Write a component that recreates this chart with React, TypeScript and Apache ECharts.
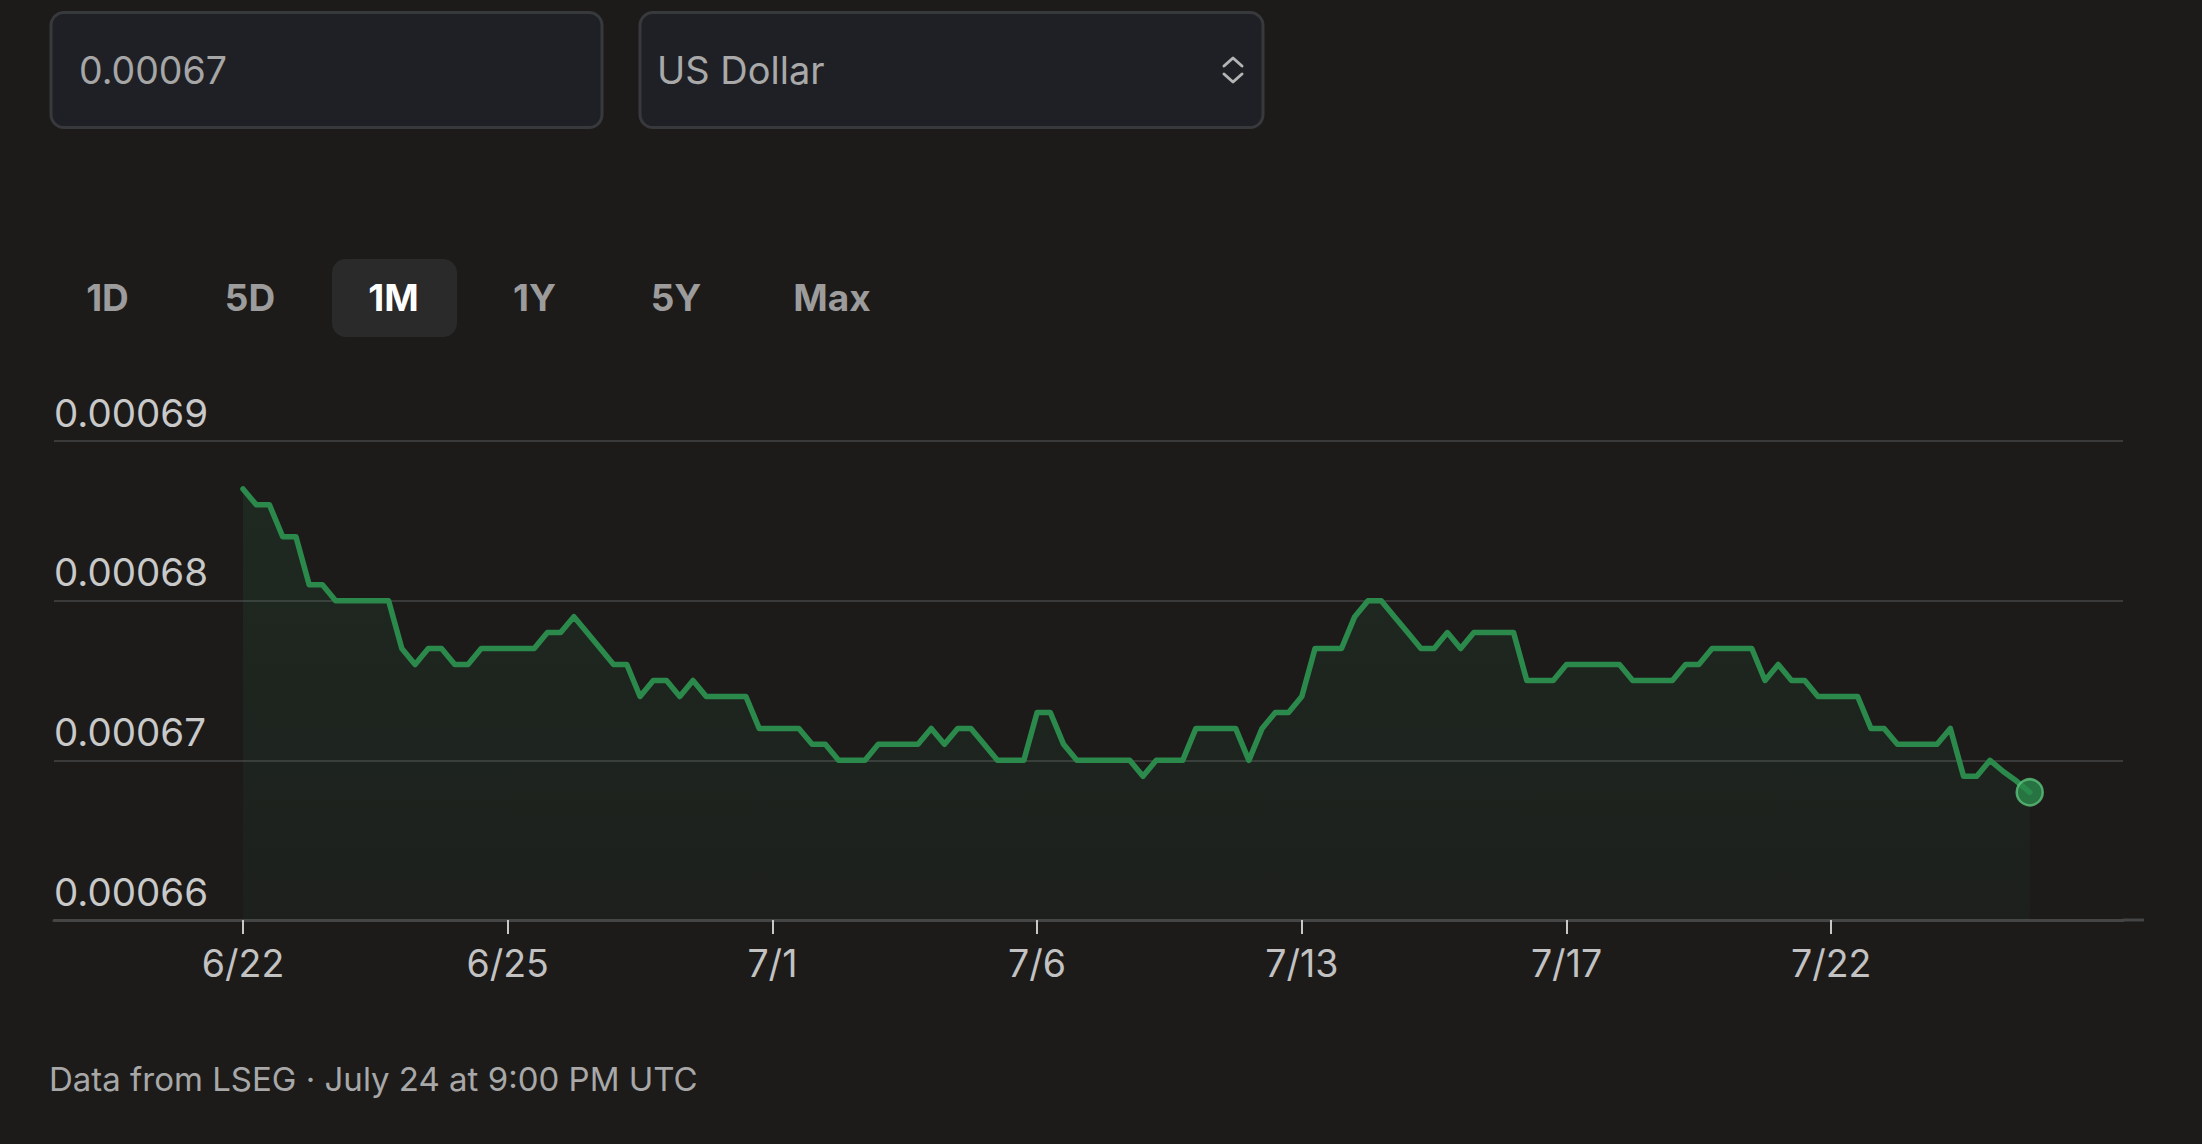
import React, { useEffect, useRef } from "react";
import * as echarts from "echarts";

// ---------- data ----------
const inputAmount = "0.00067";
const currencyName = "US Dollar";
const rangeOptions = ["1D", "5D", "1M", "1Y", "5Y", "Max"];
const activeRange = "1M";
const footnote = "Data from LSEG · July 24 at 9:00 PM UTC";

const dateTickLabels = ["6/22", "6/25", "7/1", "7/6", "7/13", "7/17", "7/22"];
const pointsPerTick = 20;

const yMin = 0.00066;
const yMax = 0.00069;
const yStep = 0.00001;

const rates = [
  0.000687, 0.000686, 0.000686, 0.000684, 0.000684, 0.000681, 0.000681, 0.00068, 0.00068, 0.00068,
  0.00068, 0.00068, 0.000677, 0.000676, 0.000677, 0.000677, 0.000676, 0.000676, 0.000677, 0.000677,
  0.000677, 0.000677, 0.000677, 0.000678, 0.000678, 0.000679, 0.000678, 0.000677, 0.000676, 0.000676,
  0.000674, 0.000675, 0.000675, 0.000674, 0.000675, 0.000674, 0.000674, 0.000674, 0.000674, 0.000672,
  0.000672, 0.000672, 0.000672, 0.000671, 0.000671, 0.00067, 0.00067, 0.00067, 0.000671, 0.000671,
  0.000671, 0.000671, 0.000672, 0.000671, 0.000672, 0.000672, 0.000671, 0.00067, 0.00067, 0.00067,
  0.000673, 0.000673, 0.000671, 0.00067, 0.00067, 0.00067, 0.00067, 0.00067, 0.000669, 0.00067,
  0.00067, 0.00067, 0.000672, 0.000672, 0.000672, 0.000672, 0.00067, 0.000672, 0.000673, 0.000673,
  0.000674, 0.000677, 0.000677, 0.000677, 0.000679, 0.00068, 0.00068, 0.000679, 0.000678, 0.000677,
  0.000677, 0.000678, 0.000677, 0.000678, 0.000678, 0.000678, 0.000678, 0.000675, 0.000675, 0.000675,
  0.000676, 0.000676, 0.000676, 0.000676, 0.000676, 0.000675, 0.000675, 0.000675, 0.000675, 0.000676,
  0.000676, 0.000677, 0.000677, 0.000677, 0.000677, 0.000675, 0.000676, 0.000675, 0.000675, 0.000674,
  0.000674, 0.000674, 0.000674, 0.000672, 0.000672, 0.000671, 0.000671, 0.000671, 0.000671, 0.000672,
  0.000669, 0.000669, 0.00067, 0.0006693, 0.0006687, 0.000668,
];

// ---------- layout / style ----------
const W = 2202;
const H = 1144;
const BG = "#1c1b1a";
const FONT = "Inter, 'Noto Sans', sans-serif";
const GREEN = "#2b8a4b";
const GRID_LEFT = 54;
const GRID_RIGHT = 2123;
const GRID_TOP = 441;
const GRID_BOTTOM = 920;
const FIRST_X = 243;
const STEP_X = 13.235;
const buttonCenters = [107.5, 250, 393.5, 534.5, 676, 832];

function buildOption() {
  const seriesData = rates.map((v, i) => [i, v]);
  const last = seriesData[seriesData.length - 1];
  const tickValues = dateTickLabels.map((_, k) => k * pointsPerTick);
  const xMin = (GRID_LEFT - FIRST_X) / STEP_X;
  const xMax = (GRID_RIGHT - FIRST_X) / STEP_X;

  const graphic: any[] = [
    // amount input
    {
      type: "rect",
      shape: { x: 51, y: 12.5, width: 551, height: 115, r: 13 },
      style: { fill: "#1f2025", stroke: "#38393d", lineWidth: 3 },
    },
    {
      type: "text",
      x: 79,
      y: 70,
      style: { text: inputAmount, fill: "#a6a6a6", fontSize: 37.5, fontFamily: FONT, align: "left", verticalAlign: "middle" },
    },
    // currency select
    {
      type: "rect",
      shape: { x: 640, y: 12.5, width: 623, height: 115, r: 13 },
      style: { fill: "#1f2025", stroke: "#38393d", lineWidth: 3 },
    },
    {
      type: "text",
      x: 657,
      y: 70,
      style: { text: currencyName, fill: "#a9a9a9", fontSize: 38, fontFamily: FONT, align: "left", verticalAlign: "middle" },
    },
    {
      type: "polyline",
      shape: { points: [[1224, 66], [1233, 58], [1242, 66]] },
      style: { stroke: "#b4b4b4", lineWidth: 3, fill: null, lineCap: "round", lineJoin: "round" },
    },
    {
      type: "polyline",
      shape: { points: [[1224, 74], [1233, 82], [1242, 74]] },
      style: { stroke: "#b4b4b4", lineWidth: 3, fill: null, lineCap: "round", lineJoin: "round" },
    },
    // active range background
    {
      type: "rect",
      shape: { x: 332, y: 259, width: 125, height: 78, r: 14 },
      style: { fill: "#2a2a2a" },
    },
    // footnote
    {
      type: "text",
      x: 49,
      y: 1079,
      style: { text: footnote, fill: "#a8a8a8", fontSize: 33, fontFamily: FONT, align: "left", verticalAlign: "middle" },
    },
    // axis line extension
    {
      type: "line",
      shape: { x1: GRID_RIGHT, y1: GRID_BOTTOM, x2: 2144, y2: GRID_BOTTOM },
      style: { stroke: "#454545", lineWidth: 3 },
    },
  ];

  rangeOptions.forEach((label, i) => {
    graphic.push({
      type: "text",
      x: buttonCenters[i],
      y: 297,
      style: {
        text: label,
        fill: label === activeRange ? "#ffffff" : "#9c9c9c",
        fontSize: 37,
        fontWeight: "bold",
        fontFamily: FONT,
        align: "center",
        verticalAlign: "middle",
      },
    });
  });

  return {
    animation: false,
    backgroundColor: BG,
    grid: {
      left: GRID_LEFT,
      top: GRID_TOP,
      width: GRID_RIGHT - GRID_LEFT,
      height: GRID_BOTTOM - GRID_TOP,
      containLabel: false,
    },
    xAxis: {
      type: "value",
      min: xMin,
      max: xMax,
      axisLine: { show: true, lineStyle: { color: "#454545", width: 3 } },
      axisTick: {
        show: true,
        customValues: tickValues,
        length: 14,
        lineStyle: { color: "#c8c8c8", width: 2 },
      },
      axisLabel: {
        show: true,
        customValues: tickValues,
        formatter: (v: number) => dateTickLabels[Math.round(v / pointsPerTick)] ?? "",
        color: "#c2c2c2",
        fontSize: 37.5,
        fontFamily: FONT,
        margin: 24,
      },
      splitLine: { show: false },
    },
    yAxis: {
      type: "value",
      min: yMin,
      max: yMax,
      interval: yStep,
      axisLine: { show: false },
      axisTick: { show: false },
      splitLine: { show: true, lineStyle: { color: "#3a3a3a", width: 2 } },
      axisLabel: {
        inside: true,
        margin: 0,
        align: "left",
        verticalAlign: "bottom",
        lineHeight: 57,
        color: "#c9c9c9",
        fontSize: 38.5,
        fontFamily: FONT,
        showMinLabel: true,
        showMaxLabel: true,
        formatter: (v: number) => v.toFixed(5),
      },
    },
    series: [
      {
        type: "line",
        data: seriesData,
        showSymbol: false,
        symbol: "none",
        lineStyle: { color: GREEN, width: 5.5, join: "round", cap: "round" },
        areaStyle: {
          origin: "start",
          color: new echarts.graphic.LinearGradient(0, 0, 0, 1, [
            { offset: 0, color: "rgba(46,139,79,0.18)" },
            { offset: 1, color: "rgba(46,139,79,0.06)" },
          ]),
        },
        z: 3,
      },
      {
        type: "scatter",
        data: [last],
        symbol: "circle",
        symbolSize: 26,
        itemStyle: { color: GREEN, borderColor: "#5cc27c", borderWidth: 2.5 },
        z: 4,
      },
    ],
    graphic,
  };
}

export default function App() {
  const ref = useRef<HTMLDivElement>(null);
  useEffect(() => {
    document.body.style.margin = "0";
    document.body.style.background = BG;
    const chart = echarts.init(ref.current!, null, { renderer: "svg", width: W, height: H });
    chart.setOption(buildOption() as any);
    return () => chart.dispose();
  }, []);
  return (
    <div
      ref={ref}
      style={{ position: "absolute", left: 0, top: 0, width: W, height: H, background: BG }}
    />
  );
}
